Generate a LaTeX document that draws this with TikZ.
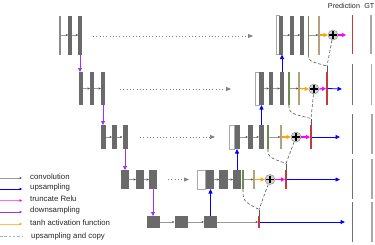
\documentclass[tikz,border=0pt]{standalone}
\usepackage{fontspec}
\setmainfont{Liberation Sans}
\usetikzlibrary{arrows.meta}
\definecolor{barg}{HTML}{6A6A6A}
\definecolor{thing}{HTML}{8A8A8A}
\definecolor{grn}{HTML}{6E8B4E}
\definecolor{tanc}{HTML}{B5A27A}
\definecolor{redc}{HTML}{C43A3A}
\definecolor{purp}{HTML}{9B30FF}
\definecolor{magc}{HTML}{FF00FF}
\definecolor{bluc}{HTML}{0000FF}
\definecolor{orac}{HTML}{FFA500}
\definecolor{predg}{HTML}{707070}
\definecolor{gtg}{HTML}{A8A8A8}
\definecolor{conng}{HTML}{9A9A9A}
\definecolor{copyg}{HTML}{555555}
\newcommand\mkbar[6]{\node[#6, minimum width=#4pt, minimum height=#5pt] (#1) at (#2,#3) {};}
\tikzset{
  barbox/.style={fill=barg, draw=none, inner sep=0pt, outer sep=0pt},
  thinbar/.style={fill=thing, draw=none, inner sep=0pt, outer sep=0pt},
  whitebox/.style={fill=white, draw=gtg, line width=0.6pt, inner sep=0pt, outer sep=0pt},
  grnbar/.style={fill=grn, draw=none, inner sep=0pt, outer sep=0pt},
  tanbar/.style={fill=tanc, draw=none, inner sep=0pt, outer sep=0pt},
  redbar/.style={fill=redc, draw=none, inner sep=0pt, outer sep=0pt},
  predbar/.style={fill=predg, draw=none, inner sep=0pt, outer sep=0pt},
  gtbar/.style={fill=gtg, draw=none, inner sep=0pt, outer sep=0pt},
  conv/.style={draw=conng, line width=0.5pt, -{Stealth[length=2.6pt,width=2.2pt,color=copyg]}},
  upar/.style={draw=bluc, line width=0.8pt, -{Triangle[length=4.5pt,width=4pt]}},
  downar/.style={draw=purp, line width=0.8pt, -{Triangle[length=4pt,width=4pt]}},
  relu/.style={draw=magc, line width=1.3pt, -{Triangle[length=4pt,width=4pt]}},
  tanhar/.style={draw=orac, line width=1.3pt, -{Triangle[length=4pt,width=4pt]}},
  skiparr/.style={draw=gray, line width=0.7pt, dash pattern=on 0.7pt off 2.6pt, -{Triangle[length=5pt,width=4pt]}},
  copyl/.style={draw=copyg, line width=0.6pt, dash pattern=on 3pt off 2pt},
  stem/.style={draw=copyg, line width=0.6pt},
  plusc/.style={circle, minimum size=10pt, inner sep=0pt, fill=gray!35, draw=gray!80, line width=0.6pt,
    path picture={\draw[black, line width=1.9pt]
      ([xshift=1.3pt]path picture bounding box.west) -- ([xshift=-1.3pt]path picture bounding box.east)
      ([yshift=-1.3pt]path picture bounding box.north) -- ([yshift=1.3pt]path picture bounding box.south);}},
  lgtext/.style={anchor=west, inner sep=0pt, font=\fontsize{7.8pt}{9pt}\selectfont, text=black!85},
  hdtext/.style={inner sep=0pt, font=\fontsize{7.2pt}{8pt}\selectfont, text=black!85}
}
\begin{document}
\begin{tikzpicture}[x=1pt,y=-1pt]
\useasboundingbox (0,0) rectangle (375,244);
% ---------------- encoder ----------------
\mkbar{e1a}{60}{35}{1.8}{39}{thinbar}
\mkbar{e1b}{70}{35}{3.5}{39}{barbox}
\mkbar{e1c}{80}{35}{3.5}{39}{barbox}
\mkbar{e2a}{81}{88.5}{4}{33}{barbox}
\mkbar{e2b}{92}{88.5}{4}{33}{barbox}
\mkbar{e2c}{103}{88.5}{4}{33}{barbox}
\mkbar{e3a}{103.5}{137}{5}{24}{barbox}
\mkbar{e3b}{114.5}{137}{5}{24}{barbox}
\mkbar{e3c}{125}{137}{5}{24}{barbox}
\mkbar{e4a}{125}{179.5}{8}{19}{barbox}
\mkbar{e4b}{140}{179.5}{8}{19}{barbox}
\mkbar{e4c}{153}{179.5}{8}{19}{barbox}
\mkbar{e5a}{153.5}{222}{13}{12}{barbox}
\mkbar{e5b}{181}{222}{13}{12}{barbox}
\mkbar{e5c}{210.5}{222}{13}{12}{barbox}
\foreach \a/\b in {e1a/e1b,e1b/e1c,e2a/e2b,e2b/e2c,e3a/e3b,e3b/e3c,e4a/e4b,e4b/e4c,e5a/e5b,e5b/e5c}
  \draw[conv] (\a.east) -- (\b.west);
% downsampling
\draw[downar] (e1c.south) -- (e1c.south |- e2a.north);
\draw[downar] (e2c.south) -- (e2c.south |- e3a.north);
\draw[downar] (e3c.south) -- (e3c.south |- e4a.north);
\draw[downar] (e4c.south) -- (e4c.south |- e5a.north);
% ---------------- decoder ----------------
% level 1
\mkbar{d1w}{277.5}{35}{3}{39}{whitebox}
\mkbar{d1g}{280.9}{35}{3.6}{39}{barbox}
\mkbar{d1b}{292}{35}{3.5}{39}{barbox}
\mkbar{d1c}{302}{35}{3.5}{39}{barbox}
\mkbar{d1gr}{308.5}{35}{1.2}{39}{grnbar}
\mkbar{d1t}{319}{35}{1.2}{39}{tanbar}
\node[plusc] (c1) at (333,35) {};
\mkbar{r1}{352.5}{34.5}{1.8}{39}{redbar}
% level 2
\mkbar{d2w}{257}{88.5}{4}{33}{whitebox}
\mkbar{d2g}{261.5}{88.5}{5}{33}{barbox}
\mkbar{d2b}{271}{88.5}{4}{33}{barbox}
\mkbar{d2c}{282}{88.5}{4}{33}{barbox}
\mkbar{d2gr}{289}{88.5}{1.2}{33}{grnbar}
\mkbar{d2t}{299}{88.5}{1.2}{33}{tanbar}
\node[plusc] (c2) at (314,89) {};
\mkbar{r2}{327}{88.5}{1.8}{33}{redbar}
% level 3
\mkbar{d3w}{232}{137}{4.5}{24}{whitebox}
\mkbar{d3g}{237.3}{137}{5.6}{24}{barbox}
\mkbar{d3b}{250.5}{137}{5}{24}{barbox}
\mkbar{d3c}{261.5}{137}{5}{24}{barbox}
\mkbar{d3gr}{268}{137}{1.2}{24}{grnbar}
\mkbar{d3t}{281}{137}{1.2}{24}{tanbar}
\node[plusc] (c3) at (296,137) {};
\mkbar{r3}{311}{137}{1.8}{24}{redbar}
% level 4
\mkbar{d4w}{201.5}{179.5}{8.5}{19}{whitebox}
\mkbar{d4g}{210}{179.5}{8.2}{19}{barbox}
\mkbar{d4b}{223.5}{179.5}{8.5}{19}{barbox}
\mkbar{d4c}{237}{179.5}{8}{19}{barbox}
\mkbar{d4gr}{243}{179.5}{1.2}{19}{grnbar}
\mkbar{d4t}{254}{179.5}{1.2}{19}{tanbar}
\node[plusc] (c4) at (270,179.5) {};
\mkbar{r4}{286}{179.5}{1.8}{19}{redbar}
% level 5 output
\mkbar{r5}{259}{222}{1.8}{12}{redbar}
\draw[conv] (e5c.east) -- (r5.west);
% convolution arrows in decoder
\foreach \a/\b in {d1g/d1b,d1b/d1c,d1gr/d1t,d2g/d2b,d2b/d2c,d2gr/d2t,d3g/d3b,d3b/d3c,d3gr/d3t,d4g/d4b,d4b/d4c,d4gr/d4t}
  \draw[conv] (\a.east) -- (\b.west);
% tanh
\draw[tanhar] (d1t.east) -- (c1.west);
\draw[tanhar] (d2t.east) -- (c2.west);
\draw[tanhar] (d3t.east) -- (c3.west);
\draw[tanhar] (d4t.east) -- (c4.west);
% truncate relu
\coordinate (m1) at (346,35);
\draw[relu] (c1.east) -- (m1);
\draw[relu] (c2.east) -- (r2.west);
\draw[relu] (c3.east) -- (r3.west);
\draw[relu] (c4.east) -- (r4.west);
% upsampling
\draw[upar] (e5c.north) -- (e5c.north |- d4g.south);
\draw[upar] (d4c.north) -- (d4c.north |- d3g.south);
\draw[upar] (d3c.north) -- (d3c.north |- d2g.south);
\draw[upar] (d2c.north) -- (d2c.north |- d1g.south);
\coordinate (o2) at (342,89);
\coordinate (o3) at (340,137);
\coordinate (o4) at (340,179.5);
\coordinate (o5) at (345,222);
\draw[upar] (r2.east) -- (o2);
\draw[upar] (r3.east) -- (o3);
\draw[upar] (r4.east) -- (o4);
\draw[upar] (r5.east) -- (o5);
% skip connections (dotted)
\coordinate (s1a) at (93,36);  \coordinate (s1b) at (253,36);
\coordinate (s2a) at (120,89); \coordinate (s2b) at (231,89);
\coordinate (s3a) at (140,137); \coordinate (s3b) at (215,137);
\coordinate (s4a) at (168,179.5); \coordinate (s4b) at (189,179.5);
\draw[skiparr] (s1a) -- (s1b);
\draw[skiparr] (s2a) -- (s2b);
\draw[skiparr] (s3a) -- (s3b);
\draw[skiparr] (s4a) -- (s4b);
% upsampling and copy (Y junctions)
\coordinate (j1) at (327,66);
\coordinate (j2) at (311,118.5);
\coordinate (j3) at (286,163.5);
\coordinate (j4) at (259,209.5);
\draw[copyl] (d1gr.south) .. controls (308.5,61) .. (j1);
\draw[copyl] (c1) -- (j1);
\draw[stem] (j1) -- (r2.north);
\draw[copyl] (d2gr.south) .. controls (289,113) .. (j2);
\draw[copyl] (c2) -- (j2);
\draw[stem] (j2) -- (r3.north);
\draw[copyl] (d3gr.south) .. controls (268,157) .. (j3);
\draw[copyl] (c3) -- (j3);
\draw[stem] (j3) -- (r4.north);
\draw[copyl] (d4gr.south) .. controls (243,201) .. (j4);
\draw[copyl] (c4) -- (j4);
\draw[stem] (j4) -- (r5.north);
% ---------------- prediction / GT columns ----------------
\mkbar{p2}{352.5}{84.5}{1.8}{41}{predbar}
\mkbar{p3}{352.5}{134}{1.8}{40}{predbar}
\mkbar{p4}{352.5}{179}{1.8}{40}{predbar}
\mkbar{p5}{352.5}{222}{1.8}{40}{predbar}
\mkbar{g1}{371.3}{34.5}{1.8}{39}{gtbar}
\mkbar{g2}{371.5}{84.5}{1.8}{41}{gtbar}
\mkbar{g3}{371.8}{134}{1.8}{40}{gtbar}
\mkbar{g4}{371.8}{179}{1.8}{40}{gtbar}
\mkbar{g5}{371.8}{222}{1.8}{40}{gtbar}
\node[hdtext] (hp) at (344,6) {Prediction};
\node[hdtext] (hg) at (369.3,6) {GT};
% ---------------- legend ----------------
\coordinate (la1) at (0,178);   \coordinate (lb1) at (22,178);
\coordinate (la2) at (0,189);   \coordinate (lb2) at (22,189);
\coordinate (la3) at (0,200.5); \coordinate (lb3) at (22,200.5);
\coordinate (la4) at (0,212);   \coordinate (lb4) at (22,212);
\coordinate (la5) at (0,224);   \coordinate (lb5) at (22,224);
\coordinate (la6) at (0,236.5); \coordinate (lb6) at (22,236.5);
\draw[conv, line width=0.8pt] (la1) -- (lb1);
\draw[upar, line width=0.5pt, -{Triangle[length=2.5pt,width=2.5pt]}] (la2) -- (lb2);
\draw[relu, draw=magc!60, line width=1.2pt, -{Triangle[length=2.5pt,width=2.8pt,color=magc]}] (la3) -- (lb3);
\draw[downar, line width=0.6pt, -{Triangle[length=2.5pt,width=2.5pt]}] (la4) -- (lb4);
\draw[tanhar, draw=orac!70, line width=0.9pt, -{Triangle[length=2.5pt,width=2.5pt,color=orac]}] (la5) -- (lb5);
\draw[draw=gray!60, line width=0.7pt, dash pattern=on 2.5pt off 1.8pt] (la6) -- (lb6);
\node[lgtext] (lt1) at (30,176.3) {convolution};
\node[lgtext] (lt2) at (30,187.5) {upsampling};
\node[lgtext] (lt3) at (30,199) {truncate Relu};
\node[lgtext] (lt4) at (30,210.5) {downsampling};
\node[lgtext] (lt5) at (30,222.5) {tanh activation function};
\node[lgtext] (lt6) at (31,236) {upsampling and copy};
\end{tikzpicture}
\end{document}
